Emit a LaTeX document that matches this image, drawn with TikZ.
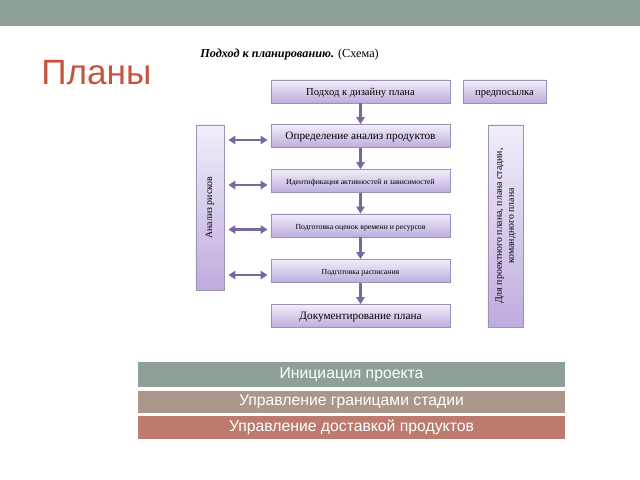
\documentclass[tikz,border=0pt]{standalone}
\usepackage{fontspec}
\setmainfont{Liberation Serif}
\newfontfamily\slidesans{Liberation Sans}
\usetikzlibrary{arrows.meta, positioning, calc, shadows}
\definecolor{bandgreen}{RGB}{143,161,151}
\definecolor{bandtaupe}{RGB}{171,150,140}
\definecolor{bandrose}{RGB}{189,122,111}
\definecolor{titlered}{RGB}{200,82,64}
\definecolor{boxtop}{RGB}{242,237,250}
\definecolor{boxbottom}{RGB}{190,172,221}
\definecolor{boxedge}{RGB}{158,146,180}
\definecolor{arrowviolet}{RGB}{122,104,156}

\begin{document}
\begin{tikzpicture}[x=0.025cm, y=-0.025cm,
  planbox/.style={draw=boxedge, line width=0.6pt, top color=boxtop, bottom color=boxbottom,
    drop shadow={opacity=0.2, shadow xshift=0.7pt, shadow yshift=-0.7pt}, inner sep=0pt, align=center},
  mainbox/.style={planbox, minimum width=4.475cm, minimum height=0.575cm, text height=0.7em, text depth=0.2em},
  band/.style={minimum width=10.675cm, inner sep=0pt, text=white,
    font=\slidesans\fontsize{11.2}{13}\selectfont},
  flow/.style={draw=arrowviolet, line width=1.6pt, -{Triangle[length=5pt, width=6pt]}},
  risklink/.style={draw=arrowviolet, line width=1.6pt,
    {Triangle[length=5pt, width=6pt]}-{Triangle[length=5pt, width=6pt]},
    shorten <=0.1cm, shorten >=0.075cm}
]
\useasboundingbox (0,0) rectangle (640,480);

% slide header
\fill[bandgreen] (0,0) rectangle (640,26);
\node[text=titlered, font=\slidesans\fontsize{25}{30}\selectfont, anchor=base west, inner sep=0pt] (title) at (41,85) {Планы};
\node[font=\fontsize{8.7}{10}\selectfont, anchor=west, inner sep=0pt] (caption) at (200,55)
  {\textbf{\textit{Подход к планированию.}} (Схема)};

% planning steps
\node[mainbox, font=\fontsize{7.5}{9}\selectfont] (design) at (360.5,91.5) {Подход к дизайну плана};
\node[planbox, minimum width=2.075cm, minimum height=0.575cm, text height=0.7em, text depth=0.2em,
  font=\fontsize{7.5}{9}\selectfont] (premise) at (504.5,91.5) {предпосылка};
\node[mainbox, font=\fontsize{8}{10}\selectfont] (products) at (360.5,136) {Определение анализ продуктов};
\node[mainbox, font=\fontsize{5.5}{7}\selectfont] (activities) at (360.5,181) {Идентификация активностей и зависимостей};
\node[mainbox, font=\fontsize{5.5}{7}\selectfont] (estimates) at (360.5,225.5) {Подготовка оценок времени и ресурсов};
\node[mainbox, font=\fontsize{5.5}{7}\selectfont] (schedule) at (360.5,271) {Подготовка расписания};
\node[mainbox, font=\fontsize{8}{10}\selectfont] (docs) at (360.5,316) {Документирование плана};

% side boxes
\node[planbox, minimum width=0.7cm, minimum height=4.125cm] (risk) at (210,207.5) {};
\node[rotate=90, font=\fontsize{7}{9}\selectfont] (risklabel) at (risk.center) {Анализ рисков};
\node[planbox, minimum width=0.875cm, minimum height=5.05cm] (scope) at (505.5,226) {};
\node[rotate=90, align=center, font=\fontsize{7}{8.5}\selectfont] (scopelabel) at (scope.center)
  {Для проектного плана, плана стадии,\\командного плана};

\draw[flow] (design) -- (products);
\draw[flow] (products) -- (activities);
\draw[flow] (activities) -- (estimates);
\draw[flow] (estimates) -- (schedule);
\draw[flow] (schedule) -- (docs);

\foreach \n in {products, activities, estimates, schedule} {
  \path ([yshift=-0.1cm]\n.west) coordinate (\n-in);
  \draw[risklink] (risk.east |- \n-in) -- (\n-in);
}

% process bands
\node[band, fill=bandgreen, minimum height=0.625cm] (initiation) at (351.5,374.5) {Инициация проекта};
\node[band, fill=bandtaupe, minimum height=0.55cm, below=0.075cm of initiation] (stages) {Управление границами стадии};
\node[band, fill=bandrose, minimum height=0.575cm, below=0.075cm of stages] (delivery) {Управление доставкой продуктов};
\end{tikzpicture}
\end{document}
